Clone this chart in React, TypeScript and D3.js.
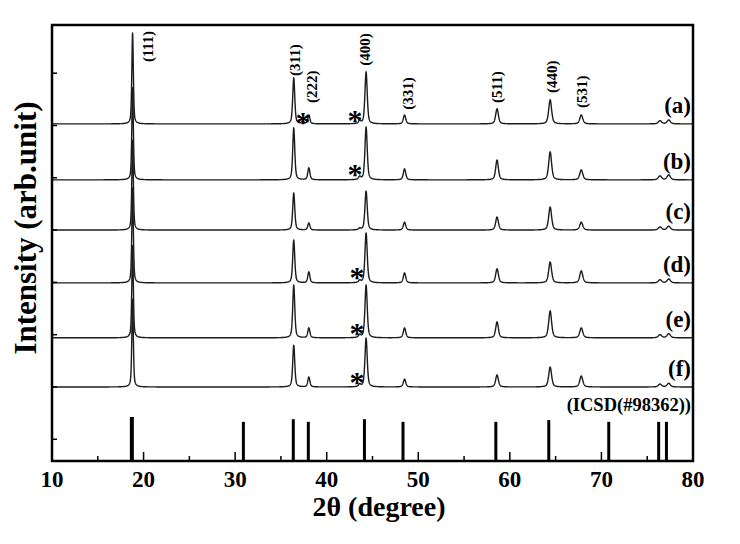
import React from 'react';
import * as d3 from 'd3';

// ---- data ----
const PEAK_POS = [18.8, 36.4, 38.05, 44.3, 48.5, 58.6, 64.4, 67.8, 76.4, 77.35, 37.4, 43.6];
const SERIES_NAMES = ['(a)', '(b)', '(c)', '(d)', '(e)', '(f)'];
const SERIES_OFFSETS = [6030, 4960, 4000, 2990, 1940, 1000];
const HEIGHTS_A = [1740, 880, 170, 995, 170, 290, 460, 170, 60, 75, 55, 55];
const HEIGHTS_B = [1760, 995, 230, 1010, 210, 380, 535, 190, 75, 95, 0, 55];
const HEIGHTS_C = [1720, 710, 135, 745, 150, 250, 440, 150, 60, 75, 0, 30];
const HEIGHTS_D = [1815, 820, 210, 955, 190, 270, 400, 230, 60, 75, 0, 40];
const HEIGHTS_E = [1760, 1010, 190, 1010, 190, 305, 515, 190, 60, 80, 0, 50];
const HEIGHTS_F = [1680, 800, 190, 935, 150, 230, 380, 210, 55, 70, 0, 45];
const ALL_HEIGHTS = [HEIGHTS_A, HEIGHTS_B, HEIGHTS_C, HEIGHTS_D, HEIGHTS_E, HEIGHTS_F];

const REF_POS = [18.72, 30.9, 36.35, 37.99, 44.12, 48.33, 58.47, 64.25, 70.8, 76.25, 77.1];
const REF_INT = [100, 89, 95, 89, 95, 89, 89, 93, 89, 89, 89];
const REF_NAME = '(ICSD(#98362))';

const HKL_LABELS = ['(111)', '(311)', '(222)', '(400)', '(331)', '(511)', '(440)', '(531)'];
const HKL_POS = [20.5, 36.55, 38.4, 44.15, 48.85, 58.55, 64.55, 67.85];
const HKL_INT = [1185, 918, 400, 1110, 270, 400, 590, 305];

const STAR_SERIES = [0, 0, 1, 3, 4, 5];
const STAR_POS = [37.4, 43.1, 43.1, 43.3, 43.3, 43.3];
const STAR_INT = [140, 170, 210, 210, 190, 190];

const X_TICKS = [10, 20, 30, 40, 50, 60, 70, 80];
const X_MINOR = [15, 25, 35, 45, 55, 65, 75];
const Y_TICKS = [0, 1000, 2000, 3000, 4000, 5000, 6000, 7000];

// ---- layout ----
const W = 740, H = 544;
const L = 52, R = 693, T = 25, B = 461;
const FONT = '"Liberation Serif", "Times New Roman", serif';

const x = d3.scaleLinear().domain([10, 80]).range([L, R]);
const y = d3.scaleLinear().domain([-415, 7921]).range([B, T]);
const yRef = d3.scaleLinear().domain([0, 100]).range([B, B - 44]);

function profile(tt: number, heights: number[]) {
  let s = 0;
  for (let i = 0; i < PEAK_POS.length; i++) {
    const h = heights[i];
    if (!h) continue;
    const p = PEAK_POS[i];
    const w = 0.19 + 0.004 * (p - 18);
    const d = (tt - p) / w;
    const lor = 1 / (1 + 4 * d * d);
    const gau = Math.exp(-4 * Math.LN2 * d * d);
    s += h * (0.5 * lor + 0.5 * gau);
  }
  return s;
}

const GRID = d3.range(10, 80.0001, 0.02);

export default function App() {
  const line = d3.line<[number, number]>().x(d => x(d[0])).y(d => y(d[1]));
  const paths = ALL_HEIGHTS.map((hs, k) =>
    line(GRID.map(t => [t, SERIES_OFFSETS[k] + profile(t, hs)] as [number, number])) || ''
  );

  return (
    <svg width={W} height={H} style={{ position: 'absolute', left: 0, top: 0, background: '#fff' }}
      fontFamily={FONT} fontWeight="bold">
      <rect x={0} y={0} width={W} height={H} fill="#fff" />
      {paths.map((d, i) => (
        <path key={i} d={d} fill="none" stroke="#1c1c1c" strokeWidth={1.4} strokeLinejoin="round" />
      ))}
      {REF_POS.map((p, i) => (
        <line key={'r' + i} x1={x(p)} x2={x(p)} y1={B} y2={yRef(REF_INT[i])}
          stroke="#000" strokeWidth={i === 0 ? 4 : 3} />
      ))}
      {/* frame */}
      <rect x={L} y={T} width={R - L} height={B - T} fill="none" stroke="#000" strokeWidth={2.5} />
      {X_TICKS.map(t => (
        <g key={'xt' + t}>
          <line x1={x(t)} x2={x(t)} y1={B} y2={B - 9} stroke="#000" strokeWidth={1.5} />
          <text x={x(t)} y={487} textAnchor="middle" fontSize={23}>{t}</text>
        </g>
      ))}
      {X_MINOR.map(t => (
        <line key={'xm' + t} x1={x(t)} x2={x(t)} y1={B} y2={B - 5} stroke="#000" strokeWidth={1.5} />
      ))}
      {Y_TICKS.map(t => (
        <line key={'yt' + t} x1={L} x2={L + 5} y1={y(t)} y2={y(t)} stroke="#000" strokeWidth={1.5} />
      ))}
      {HKL_LABELS.map((lab, i) => {
        const px = x(HKL_POS[i]);
        const py = y(SERIES_OFFSETS[0] + HKL_INT[i]);
        return (
          <text key={'h' + i} transform={`translate(${px},${py}) rotate(-90)`} fontSize={15}
            dominantBaseline="central">{lab}</text>
        );
      })}
      {STAR_POS.map((p, i) => (
        <text key={'s' + i} x={x(p)} y={y(SERIES_OFFSETS[STAR_SERIES[i]] + STAR_INT[i]) + 15}
          textAnchor="middle" fontSize={30}>*</text>
      ))}
      {SERIES_NAMES.map((n, i) => (
        <text key={'n' + i} x={691} y={y(SERIES_OFFSETS[i]) - 11} textAnchor="end" fontSize={23}>{n}</text>
      ))}
      <text x={691} y={411} textAnchor="end" fontSize={18.5}>{REF_NAME}</text>
      <text x={379} y={516} textAnchor="middle" fontSize={28}>2θ (degree)</text>
      <text transform={`translate(36,228) rotate(-90)`} textAnchor="middle" fontSize={31}>Intensity (arb.unit)</text>
    </svg>
  );
}
